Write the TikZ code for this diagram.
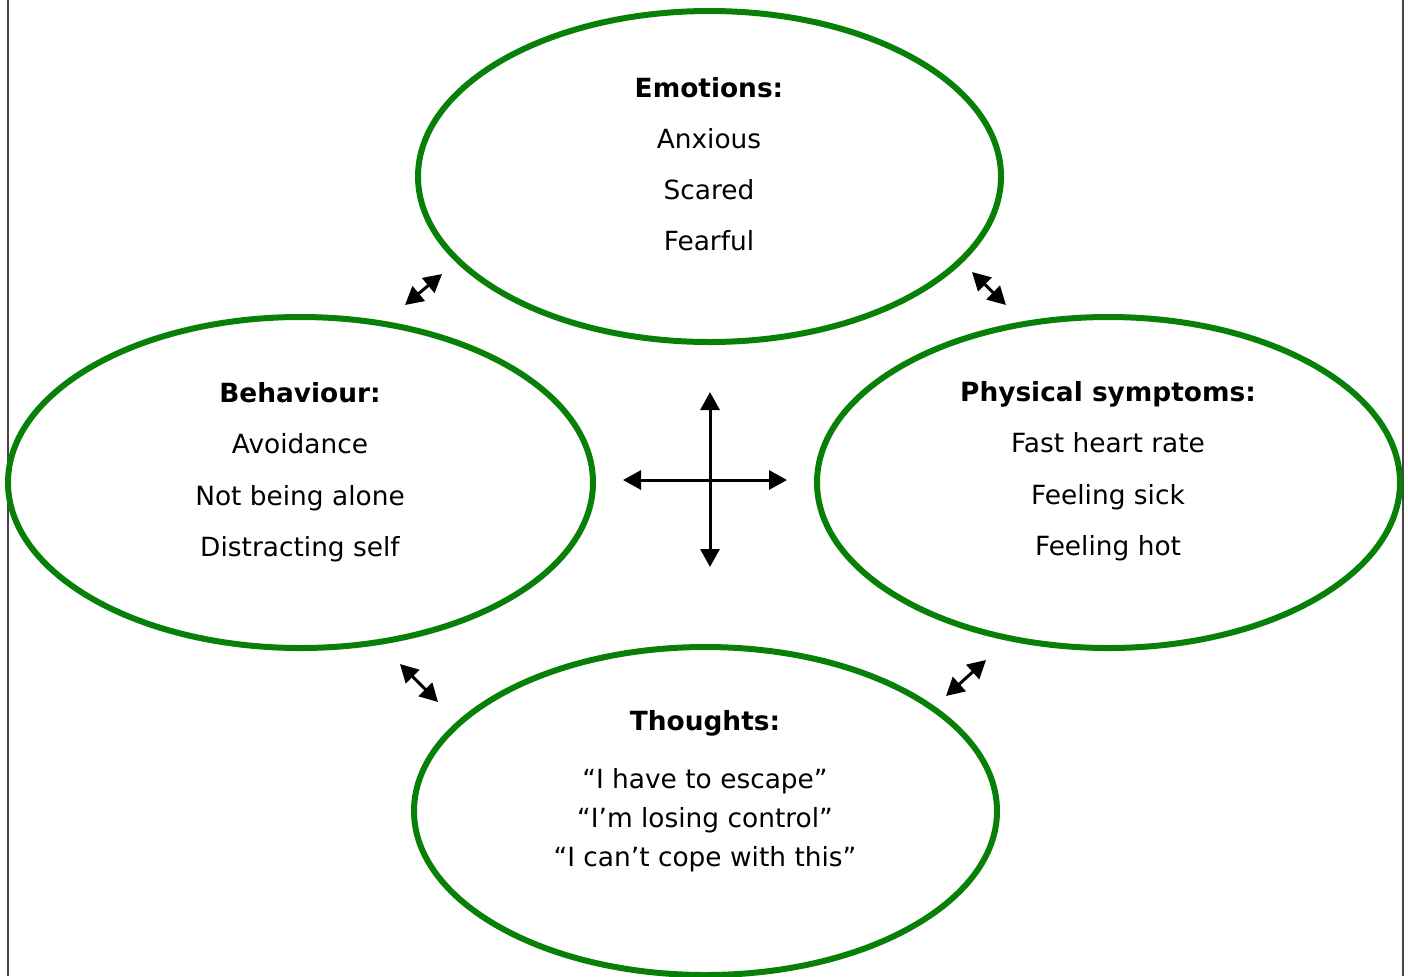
\documentclass[tikz,border=0pt]{standalone}
\usepackage{fontspec}
\setmainfont{DejaVu Sans}
\usetikzlibrary{shapes.geometric,arrows.meta}
\definecolor{ringgreen}{RGB}{8,128,8}
\definecolor{edgegray}{RGB}{70,70,70}
\tikzset{
  ring/.style={ellipse, draw=ringgreen, line width=3pt, inner sep=0pt},
  txt/.style={anchor=base, inner sep=0pt, font=\fontsize{13.2}{15}\selectfont},
  ttl/.style={txt, font=\fontsize{13.2}{15}\selectfont\bfseries},
  dbl/.style={line width=1.5pt, {Triangle[length=9pt,width=9.5pt]}-{Triangle[length=9pt,width=9.5pt]}},
}
\begin{document}
\begin{tikzpicture}[x=0.5pt,y=-0.5pt]
\useasboundingbox (0,0) rectangle (1408,976);
\draw[edgegray, line width=0.8pt] (8,0) -- (8,976);
\draw[edgegray, line width=0.8pt] (1403,0) -- (1403,976);

\node[ring, minimum width=583*0.5pt, minimum height=331*0.5pt] (emo) at (709.5,176.5) {};
\node[ring, minimum width=585*0.5pt, minimum height=331*0.5pt] (beh) at (300.5,482.5) {};
\node[ring, minimum width=583*0.5pt, minimum height=331*0.5pt] (phy) at (1108.5,482.5) {};
\node[ring, minimum width=583*0.5pt, minimum height=328*0.5pt] (tho) at (705.5,811) {};

\node[ttl] (emoT) at (709,97) {Emotions:};
\node[txt] (emo1) at (709,148) {Anxious};
\node[txt] (emo2) at (709,199) {Scared};
\node[txt] (emo3) at (709,250) {Fearful};

\node[ttl] (behT) at (300,402) {Behaviour:};
\node[txt] (beh1) at (300,453) {Avoidance};
\node[txt] (beh2) at (300,505) {Not being alone};
\node[txt] (beh3) at (300,556) {Distracting self};

\node[ttl] (phyT) at (1108,401) {Physical symptoms:};
\node[txt] (phy1) at (1108,452) {Fast heart rate};
\node[txt] (phy2) at (1108,504) {Feeling sick};
\node[txt] (phy3) at (1108,555) {Feeling hot};

\node[ttl] (thoT) at (705,730) {Thoughts:};
\node[txt] (tho1) at (705,788) {“I have to escape”};
\node[txt] (tho2) at (705,827) {“I’m losing control”};
\node[txt] (tho3) at (705,866) {“I can’t cope with this”};

\coordinate (a1) at (405,305); \coordinate (a2) at (442,274);
\coordinate (b1) at (972,272); \coordinate (b2) at (1006,305);
\coordinate (c1) at (400,664); \coordinate (c2) at (438,702);
\coordinate (d1) at (946,696); \coordinate (d2) at (986,660);
\coordinate (vt) at (710,392); \coordinate (vb) at (710,567);
\coordinate (hl) at (623,480); \coordinate (hr) at (787,480);

\draw[dbl] (a1) -- (a2);
\draw[dbl] (b1) -- (b2);
\draw[dbl] (c1) -- (c2);
\draw[dbl] (d1) -- (d2);
\draw[dbl] (vt) -- (vb);
\draw[dbl] (hl) -- (hr);
\end{tikzpicture}
\end{document}
